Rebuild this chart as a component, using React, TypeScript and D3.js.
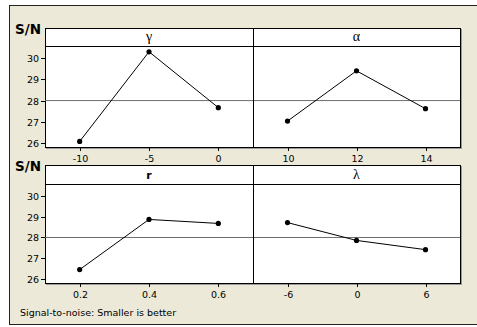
import React from 'react';
import * as d3 from 'd3';

// main effects plot for S/N ratios, one panel per factor
const factorNames = ['γ', 'α', 'r', 'λ'];
const gammaLevels = ['-10', '-5', '0'];
const alphaLevels = ['10', '12', '14'];
const rLevels = ['0.2', '0.4', '0.6'];
const lambdaLevels = ['-6', '0', '6'];
const gammaSN = [26.09, 30.28, 27.67];
const alphaSN = [27.04, 29.39, 27.62];
const rSN = [26.47, 28.86, 28.67];
const lambdaSN = [28.71, 27.86, 27.42];
const yTicks = [26, 27, 28, 29, 30];
const grandMean = 28.0;
const footnote = 'Signal-to-noise: Smaller is better';

const W = 477;
const H = 327;
const FONT = '"DejaVu Sans", Verdana, sans-serif';

const rows = [
  { top: 28, strip: 46, bottom: 147 },
  { top: 165, strip: 184, bottom: 283 },
];
const cols = [
  { left: 45, right: 253 },
  { left: 253, right: 460 },
];

const panels = [
  { name: factorNames[0], levels: gammaLevels, values: gammaSN, row: 0, col: 0 },
  { name: factorNames[1], levels: alphaLevels, values: alphaSN, row: 0, col: 1 },
  { name: factorNames[2], levels: rLevels, values: rSN, row: 1, col: 0 },
  { name: factorNames[3], levels: lambdaLevels, values: lambdaSN, row: 1, col: 1 },
];

function Panel({ p }: { p: typeof panels[number] }) {
  const r = rows[p.row];
  const c = cols[p.col];
  const x = d3.scaleLinear().domain([-0.5, 2.5]).range([c.left, c.right]);
  const y = d3.scaleLinear().domain([25.83, 30.55]).range([r.bottom, r.strip]);
  const line = d3.line<number>()
    .x((_, i) => x(i))
    .y(d => y(d));
  const greek = p.name !== 'r';
  return (
    <g>
      {/* mean reference line */}
      <line x1={c.left} x2={c.right} y1={y(grandMean)} y2={y(grandMean)} stroke="#6e6e6e" strokeWidth={1} />
      <path d={line(p.values) || ''} fill="none" stroke="#000" strokeWidth={1} />
      {p.values.map((v, i) => (
        <circle key={i} cx={x(i)} cy={y(v)} r={2.6} fill="#000" />
      ))}
      {/* strip */}
      <line x1={c.left} x2={c.right} y1={r.strip + 0.5} y2={r.strip + 0.5} stroke="#000" />
      <text
        x={(c.left + c.right) / 2}
        y={r.strip - 5}
        textAnchor="middle"
        fontFamily={greek ? '"Liberation Serif", serif' : FONT}
        fontWeight={greek ? 'normal' : 'bold'}
        fontSize={greek ? 14 : 11}
      >{p.name}</text>
      {/* x ticks */}
      {p.levels.map((lab, i) => (
        <g key={lab} transform={`translate(${Math.round(x(i)) + 0.5},${r.bottom})`}>
          <line y1={0} y2={4} stroke="#000" />
          <text y={14.5} textAnchor="middle" fontFamily={FONT} fontSize={9.5} fill="#000">{lab}</text>
        </g>
      ))}
    </g>
  );
}

export default function App() {
  return (
    <svg width={W} height={H} style={{ position: 'fixed', left: 0, top: 0, display: 'block', background: '#fff' }}>
      <rect x={9.5} y={5.5} width={W} height={319} fill="#ECE9D8" stroke="#222" strokeWidth={1} />
      {rows.map((r, ri) => {
        const y = d3.scaleLinear().domain([25.83, 30.55]).range([r.bottom, r.strip]);
        const left = cols[0].left;
        const right = cols[1].right;
        return (
          <g key={ri}>
            {/* shadow */}
            <rect x={left + 1.5} y={r.top + 1.5} width={right - left} height={r.bottom - r.top} fill="none" stroke="#999" />
            <rect x={left + 0.5} y={r.top + 0.5} width={right - left} height={r.bottom - r.top} fill="#fff" stroke="#000" />
            <text x={15} y={r.top + 6} fontFamily={FONT} fontWeight="bold" fontSize={13.5} fill="#000">S/N</text>
            {yTicks.map(t => (
              <g key={t} transform={`translate(${left},${Math.round(y(t)) + 0.5})`}>
                <line x1={-4} x2={0} stroke="#000" />
                <text x={-6} dy="0.35em" textAnchor="end" fontFamily={FONT} fontSize={9.5} fill="#000">{t}</text>
              </g>
            ))}
          </g>
        );
      })}
      {panels.map(p => <Panel key={p.name} p={p} />)}
      {rows.map((r, ri) => (
        <line key={ri} x1={cols[1].left + 0.5} x2={cols[1].left + 0.5} y1={r.top} y2={r.bottom} stroke="#000" />
      ))}
      <text x={20} y={316} fontFamily={FONT} fontSize={9.5} fill="#000">{footnote}</text>
    </svg>
  );
}
